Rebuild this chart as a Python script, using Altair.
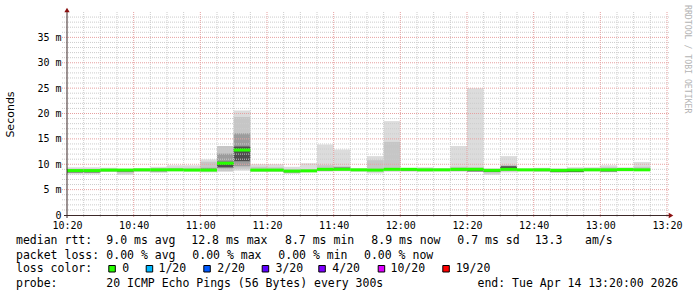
import altair as alt
import pandas as pd

# ---------------- data ----------------
bin_start = [0, 5, 10, 15, 20, 25, 30, 35, 40, 45, 50, 55, 60, 65, 70, 75, 80, 85,
             90, 95, 100, 105, 110, 115, 120, 125, 130, 135, 140, 145, 150, 155, 160, 165, 170]
rtt_min = [8.0, 8.0, 8.5, 7.9, 8.5, 8.3, 8.6, 8.6, 8.4, 8.5, 8.7, 8.5, 8.5, 8.1, 8.4, 8.5, 8.6, 8.5,
           8.2, 8.5, 8.5, 8.5, 8.6, 8.5, 8.6, 7.9, 8.4, 8.6, 8.5, 8.3, 8.3, 8.6, 8.4, 8.6, 8.7]
band_b_lo = [8.3, 8.3, 8.6, 8.2, 8.6, 8.5, 8.7, 8.7, 8.6, 8.7, 9.1, 8.6, 8.6, 8.3, 8.5, 8.7, 8.8, 8.7,
             8.6, 8.8, 8.7, 8.7, 8.7, 8.7, 8.6, 8.2, 8.6, 8.7, 8.6, 8.5, 8.5, 8.7, 8.6, 8.8, 8.8]
band_c_lo = [8.4, 8.4, 8.6, 8.5, 8.7, 8.6, 8.7, 8.7, 8.7, 9.2, 9.6, 8.7, 8.7, 8.4, 8.6, 8.8, 8.9, 8.8,
             8.7, 8.9, 8.8, 8.8, 8.8, 8.8, 8.6, 8.5, 8.8, 8.8, 8.7, 8.5, 8.5, 8.8, 8.6, 8.9, 8.9]
band_d_lo = [8.4, 8.4, 8.7, 8.6, 8.7, 8.65, 8.75, 8.7, 8.75, 9.4, 10.6, 8.7, 8.7, 8.45, 8.6, 8.8, 8.9, 8.8,
             8.7, 8.9, 8.8, 8.8, 8.8, 8.8, 8.6, 8.5, 8.9, 8.8, 8.75, 8.45, 8.45, 8.8, 8.6, 8.9, 8.9]
median = [8.75, 8.75, 8.85, 8.85, 8.9, 8.9, 8.9, 8.85, 8.85, 10.2, 12.8, 8.85, 8.85, 8.65, 8.7, 9.0, 9.0, 8.9,
          8.85, 9.0, 9.0, 8.9, 8.9, 9.0, 9.0, 8.8, 9.0, 8.9, 8.9, 8.8, 8.85, 8.9, 8.9, 8.95, 8.9]
band_d_hi = [8.8, 8.8, 8.9, 8.9, 8.95, 8.95, 8.95, 8.9, 9.0, 10.5, 13.5, 8.9, 8.9, 8.7, 8.75, 9.05, 9.3, 8.95,
             8.9, 9.05, 9.05, 8.95, 8.95, 9.05, 9.05, 8.85, 9.6, 8.95, 8.95, 8.85, 8.9, 8.95, 8.95, 9.0, 9.0]
band_c_hi = [8.9, 8.9, 9.0, 9.0, 9.0, 9.1, 9.1, 9.0, 9.3, 12.1, 16.1, 9.0, 9.0, 8.8, 8.85, 9.2, 9.4, 9.0,
             9.0, 9.2, 9.1, 9.0, 9.0, 9.1, 9.1, 8.9, 9.7, 9.0, 9.0, 8.9, 9.0, 9.0, 9.0, 9.05, 9.1]
band_b_hi = [9.1, 9.1, 9.1, 9.0, 9.05, 9.2, 9.3, 9.3, 10.5, 13.6, 19.3, 9.5, 9.4, 9.0, 9.0, 9.8, 9.6, 9.1,
             10.8, 14.4, 9.1, 9.2, 9.1, 9.5, 9.4, 9.0, 9.8, 9.0, 9.1, 9.0, 9.1, 9.2, 9.4, 9.2, 9.5]
rtt_max = [9.4, 9.4, 9.3, 9.1, 9.2, 9.5, 9.8, 9.8, 10.95, 13.6, 20.6, 10.0, 10.0, 9.5, 10.2, 13.9, 12.9, 9.2,
           11.6, 18.5, 9.2, 9.4, 9.2, 13.6, 25.0, 9.2, 11.6, 9.1, 9.3, 9.2, 9.4, 9.4, 9.8, 9.4, 10.45]

x_tick_labels = ['10:20', '10:40', '11:00', '11:20', '11:40', '12:00', '12:20', '12:40', '13:00', '13:20']
y_tick_values = [0, 5, 10, 15, 20, 25, 30, 35]

stats_line1 = ["median rtt:", "9.0 ms avg", "12.8 ms max", "8.7 ms min", "8.9 ms now",
               "0.7 ms sd", "13.3", "am/s"]
stats_line2 = ["packet loss:", "0.00 % avg", "0.00 % max", "0.00 % min", "0.00 % now"]
loss_labels = ["0", "1/20", "2/20", "3/20", "4/20", "10/20", "19/20"]
loss_colors = ["#26ff00", "#00b8ff", "#0059ff", "#5e00ff", "#7e00ff", "#dd00ff", "#ff0000"]
probe_text = "20 ICMP Echo Pings (56 Bytes) every 300s"
end_text = "end: Tue Apr 14 13:20:00 2026"
watermark = "RRDTOOL / TOBI OETIKER"

# ---------------- layout (pixels) ----------------
PL, PT = 67, 12          # plot origin in the page
W, H = 600, 203
line1_x = [16, 106.3, 191.3, 285, 371.3, 457.3, 534.7, 585]
line2_x = [16, 106.3, 192.3, 278.3, 364]
loss_sq_x = [108.3, 145.7, 203.3, 261.7, 318.3, 377.7, 442.3]
loss_lab_x = [122.3, 158.5, 217.3, 275.5, 332.3, 390.5, 455.7]
base_y = [244.3, 258.5, 272.0, 286.5]

FONT = "DejaVu Sans Mono"

df = pd.DataFrame({
    "start": bin_start,
    "mn": rtt_min, "blo": band_b_lo, "clo": band_c_lo, "dlo": band_d_lo,
    "med": median,
    "dhi": band_d_hi, "chi": band_c_hi, "bhi": band_b_hi, "mx": rtt_max,
})
df["end"] = df["start"] + 5

xscale = alt.Scale(domain=[0, 180], nice=False, zero=False)
yscale = alt.Scale(domain=[0, 40], nice=False, zero=True)

label_arr = "[" + ",".join("'%s'" % s for s in x_tick_labels) + "]"
xaxis = alt.Axis(values=[0, 20, 40, 60, 80, 100, 120, 140, 160, 180],
                 labelExpr=label_arr + "[round(datum.value / 20)]",
                 grid=False, domain=False, ticks=False, title=None,
                 labelFont=FONT, labelFontSize=10, labelColor="#000000",
                 labelPadding=5, labelAngle=0, labelFlush=False)
yaxis = alt.Axis(values=y_tick_values,
                 labelExpr="datum.value == 0 ? '0' : datum.value + ' m'",
                 grid=False, domain=False, ticks=False,
                 labelFont=FONT, labelFontSize=10, labelColor="#000000",
                 labelPadding=6, labelFlush=False,
                 title="Seconds", titleFont="DejaVu Sans", titleFontSize=11,
                 titleFontWeight="normal", titleColor="#000000",
                 titleAngle=270, titleX=-57, titleY=102,
                 titleAlign="center", titleBaseline="middle")

base = alt.Chart(df)

def band(lo, hi, color):
    return base.mark_rect(color=color, opacity=1).encode(
        x=alt.X("start:Q", scale=xscale, axis=xaxis),
        x2="end:Q",
        y=alt.Y(lo + ":Q", scale=yscale, axis=yaxis),
        y2=hi + ":Q",
    )

bandA = band("mn", "mx", "#dcdcdc")
bandB = band("blo", "bhi", "#c6c6c6")
bandC = band("clo", "chi", "#9c9c9c")
bandD = band("dlo", "dhi", "#4e4e4e")

# grid
y_minor = [v for v in range(1, 40) if v % 5 != 0]
y_major = [5, 10, 15, 20, 25, 30, 35]
x_minor = [v for v in range(5, 180, 5) if v % 20 != 0]
x_major = [20, 40, 60, 80, 100, 120, 140, 160, 180]

def hgrid(vals, color):
    return alt.Chart(pd.DataFrame({"v": vals})).mark_rule(
        stroke=color, strokeWidth=1, strokeDash=[1, 1]).encode(
        y=alt.Y("v:Q", scale=yscale, axis=yaxis),
        x=alt.value(-5), x2=alt.value(W + 2))

def vgrid(vals, color):
    return alt.Chart(pd.DataFrame({"v": vals})).mark_rule(
        stroke=color, strokeWidth=1, strokeDash=[1, 1]).encode(
        x=alt.X("v:Q", scale=xscale, axis=xaxis),
        y=alt.value(0), y2=alt.value(H + 3))

grid_layers = [hgrid(y_minor, "#cccccc"), vgrid(x_minor, "#cccccc"),
               hgrid(y_major, "#e6a0a0"), vgrid(x_major, "#e6a0a0")]

median_line = base.mark_rule(color="#26ff00", strokeWidth=3).encode(
    x=alt.X("start:Q", scale=xscale, axis=xaxis), x2="end:Q",
    y=alt.Y("med:Q", scale=yscale, axis=yaxis))

dummy = alt.Chart(pd.DataFrame({"a": [0]}))
axis_color = "#3c2828"
left_axis = dummy.mark_rule(stroke=axis_color, strokeWidth=1).encode(
    x=alt.value(0), y=alt.value(-1), y2=alt.value(H + 3))
bottom_axis = dummy.mark_rule(stroke=axis_color, strokeWidth=1).encode(
    x=alt.value(-3), x2=alt.value(W + 3), y=alt.value(H + 0.5))
arrow_up = dummy.mark_point(shape="triangle-up", filled=True, color="#8b1010",
                            size=28, opacity=1).encode(x=alt.value(0), y=alt.value(-2))
arrow_right = dummy.mark_point(shape="triangle-right", filled=True, color="#8b1010",
                               size=28, opacity=1).encode(x=alt.value(W + 4), y=alt.value(H + 0.5))

texts = []
def txt(s, x, y, size=11.5, color="#000000", angle=0, font=FONT):
    return dummy.mark_text(text=s, font=font, fontSize=size, color=color, align="left",
                           baseline="alphabetic", angle=angle).encode(
        x=alt.value(x - PL), y=alt.value(y - PT))

for s, x in zip(stats_line1, line1_x):
    texts.append(txt(s, x, base_y[0]))
for s, x in zip(stats_line2, line2_x):
    texts.append(txt(s, x, base_y[1]))
texts.append(txt("loss color:", 16, base_y[2]))
for s, x in zip(loss_labels, loss_lab_x):
    texts.append(txt(s, x, base_y[2]))
texts.append(txt("probe:", 16, base_y[3]))
texts.append(txt(probe_text, 106.3, base_y[3]))
texts.append(txt(end_text, 477.5, base_y[3]))

squares = []
for x, c in zip(loss_sq_x, loss_colors):
    squares.append(dummy.mark_rect(fill=c, stroke="#000000", strokeWidth=1).encode(
        x=alt.value(x - PL + 0.5), x2=alt.value(x - PL + 7.0),
        y=alt.value(265.5 - PT), y2=alt.value(272.0 - PT)))

wm = dummy.mark_text(text=watermark, font=FONT, fontSize=8.2, color="#b4b4b4",
                     align="left", baseline="middle", angle=90).encode(
    x=alt.value(686.5 - PL), y=alt.value(5 - PT))

chart = alt.layer(
    bandA, bandB, bandC, bandD, *grid_layers, median_line,
    left_axis, bottom_axis, arrow_up, arrow_right, *texts, *squares, wm
).properties(
    width=W, height=H,
    padding={"left": PL, "top": PT, "right": 697 - PL - W, "bottom": 297 - PT - H},
    autosize=alt.AutoSizeParams(type="none"),
    background="#ffffff",
).configure_view(strokeWidth=0)

chart.save("out.html", embed_options={"renderer": "svg", "actions": False})
